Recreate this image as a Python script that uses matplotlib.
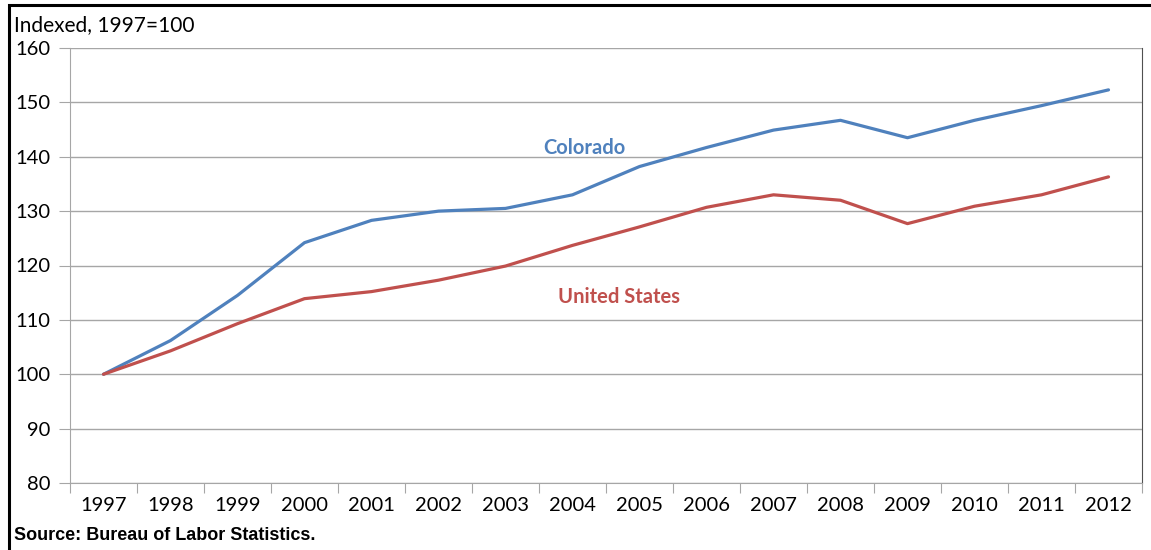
import matplotlib
matplotlib.use('Agg')
import matplotlib.pyplot as plt
from matplotlib.patches import Rectangle

# Employment index by year (1997 = 100)
years = list(range(1997, 2013))
colorado = [100.0, 106.2, 114.5, 124.2, 128.3, 130.0, 130.5, 133.0,
            138.2, 141.7, 144.9, 146.7, 143.5, 146.7, 149.4, 152.3]
united_states = [100.0, 104.3, 109.3, 113.9, 115.2, 117.3, 119.9, 123.7,
                 127.1, 130.7, 133.0, 132.0, 127.7, 130.9, 133.0, 136.3]
y_ticks = [80, 90, 100, 110, 120, 130, 140, 150, 160]

blue = '#4F81BD'
red = '#C0504D'
font = ['Lato', 'DejaVu Sans']

fig = plt.figure(figsize=(11.51, 5.5), dpi=100)
ax = fig.add_axes([70 / 1151, 1 - 483 / 550, 1072 / 1151, 435 / 550])

ax.plot(years, colorado, color=blue, lw=2.3, solid_capstyle='round')
ax.plot(years, united_states, color=red, lw=2.3, solid_capstyle='round')

ax.set_xlim(years[0] - 0.5, years[-1] + 0.5)
ax.set_ylim(80, 160)
ax.set_yticks(y_ticks)
ax.set_yticklabels([str(v) for v in y_ticks], fontfamily=font, fontsize=14.5)

# category axis: ticks between years, labels centred on each year
ax.set_xticks([y - 0.5 for y in years] + [years[-1] + 0.5])
ax.set_xticklabels([])
ax.set_xticks(years, minor=True)
ax.set_xticklabels([str(y) for y in years], minor=True, fontfamily=font, fontsize=14.5)
ax.tick_params(axis='x', which='major', length=7, color='#A6A6A6', direction='out')
ax.tick_params(axis='x', which='minor', length=0, pad=10)
ax.tick_params(axis='y', length=8, color='#A6A6A6', pad=6)

ax.grid(axis='y', color='#A6A6A6', lw=1)
ax.set_axisbelow(True)
for side in ['left', 'bottom']:
    ax.spines[side].set_color('#A6A6A6')
ax.spines['top'].set_visible(False)
ax.spines['right'].set_color('#505050')

ax.text(2004.17, 141.6, 'Colorado', color=blue, fontsize=14.5, fontweight='bold',
        fontfamily=font, ha='center', va='center')
ax.text(2004.69, 114.2, 'United States', color=red, fontsize=14.5, fontweight='bold',
        fontfamily=font, ha='center', va='center')

fig.text(14 / 1151, 1 - 25 / 550, 'Indexed, 1997=100', fontfamily=font, fontsize=15,
         va='center', ha='left')
fig.text(14 / 1151, 1 - 535 / 550, 'Source: Bureau of Labor Statistics.',
         fontfamily='Liberation Sans', fontweight='bold', fontsize=13,
         va='center', ha='left')

# outer frame
fig.patches.append(Rectangle((9 / 1151, -0.1), 1.2, 1 - 5 / 550 + 0.1,
                             transform=fig.transFigure, fill=False,
                             edgecolor='black', lw=2.2))

fig.savefig('out.png', dpi=100)
